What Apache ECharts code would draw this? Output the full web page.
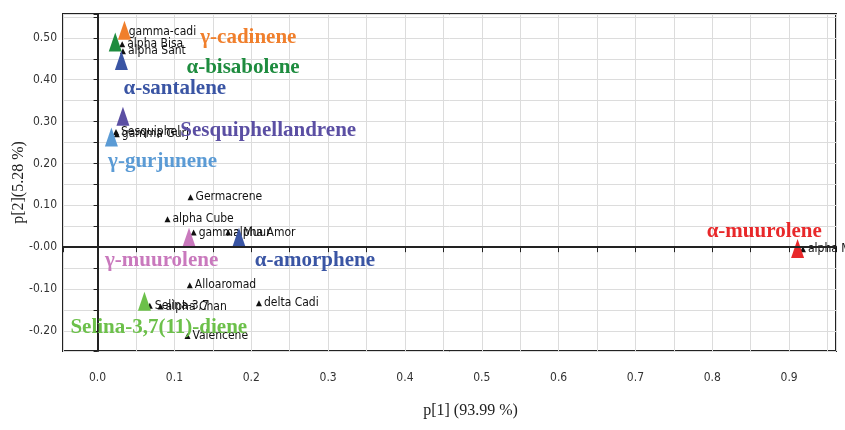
<!DOCTYPE html>
<html>
<head>
<meta charset="utf-8">
<script src="https://cdn.jsdelivr.net/npm/echarts@6/dist/echarts.min.js"></script>
<style>html,body{margin:0;padding:0;background:#fff}#chart{width:845px;height:430px}</style>
</head>
<body>
<div id="chart"></div>
<script>
// ---- data ----
const pointNames = ['gamma-cadi','alpha Bisa','alpha Sant','Sesquiphel','gamma Gurj','Germacrene','alpha Cube','gamma Muur','alpha Amor','Alloaromad','delta Cadi','Selina-3,7','alpha Chan','Valencene','alpha Muur'];
const pointX = [0.034, 0.032, 0.033, 0.024, 0.025, 0.121, 0.091, 0.125, 0.170, 0.120, 0.210, 0.068, 0.082, 0.117, 0.918];
const pointY = [0.515, 0.485, 0.468, 0.275, 0.270, 0.119, 0.067, 0.035, 0.035, -0.091, -0.134, -0.140, -0.142, -0.212, -0.005];

const compoundNames = ['γ-cadinene','α-bisabolene','α-santalene','Sesquiphellandrene','γ-gurjunene','γ-muurolene','α-amorphene','Selina-3,7(11)-diene','α-muurolene'];
const markerX = [0.035, 0.023, 0.031, 0.033, 0.018, 0.119, 0.184, 0.061, 0.911];
const markerY = [0.518, 0.490, 0.446, 0.313, 0.263, 0.024, 0.024, -0.129, -0.003];
const annotX = [0.133, 0.115, 0.033, 0.107, 0.013, 0.009, 0.204, -0.036, 0.792];
const annotY = [0.501, 0.430, 0.379, 0.279, 0.205, -0.031, -0.031, -0.193, 0.038];

const xAxisTitle = 'p[1] (93.99 %)';
const yAxisTitle = 'p[2](5.28 %)';

// ---- styles ----
const palette = ['#F07F2C','#1E8C3F','#3A55A4','#5B4FA3','#5B9BD5','#C979BD','#3A55A4','#6CC04A','#E8282A'];
const narrow = "'Liberation Sans Narrow','DejaVu Sans Condensed','Arial Narrow',sans-serif";
const serif = "'Liberation Serif','DejaVu Serif',serif";

const chart = echarts.init(document.getElementById('chart'), null, {renderer:'canvas'});
const isTenth = v => Math.abs(v*10 - Math.round(v*10)) < 1e-6;

chart.setOption({
  animation: false,
  backgroundColor: '#fff',
  grid: {left: 63, right: 9, top: 14, bottom: 79, containLabel: false, outerBoundsMode: 'none',
    show: true, borderColor: '#222', borderWidth: 2, backgroundColor: 'transparent'},
  xAxis: {
    type: 'value', min: -0.045, max: 0.961, splitNumber: 20,
    axisLine: {show: true, lineStyle: {color: '#222', width: 2}},
    axisTick: {show: true, length: 5, lineStyle: {color: '#222'}},
    splitLine: {show: true, lineStyle: {color: '#dcdcdc', width: 1}},
    axisLabel: {margin: 21, color: '#333', fontFamily: narrow, fontSize: 12,
      formatter: v => (isTenth(v) && v > -0.01 && v < 0.955) ? v.toFixed(1) : ''},
    name: xAxisTitle, nameLocation: 'middle', nameGap: 52, nameMoveOverlap: false,
    nameTextStyle: {fontFamily: serif, fontSize: 16, color: '#222', padding: [0,0,0,42]}
  },
  yAxis: {
    type: 'value', min: -0.248, max: 0.557, splitNumber: 16,
    axisLine: {show: true, lineStyle: {color: '#222', width: 2}},
    axisTick: {show: true, length: 4, lineStyle: {color: '#222'}},
    splitLine: {show: true, lineStyle: {color: '#dcdcdc', width: 1}},
    axisLabel: {margin: 6, color: '#333', fontFamily: narrow, fontSize: 12,
      formatter: v => (isTenth(v) && v > -0.21 && v < 0.51) ? (Math.abs(v) < 1e-9 ? '-0.00' : v.toFixed(2)) : ''},
    name: yAxisTitle, nameLocation: 'middle', nameGap: 36, nameMoveOverlap: false,
    nameTextStyle: {fontFamily: serif, fontSize: 16, color: '#222'}
  },
  series: [
    {
      type: 'scatter', symbol: 'triangle', symbolSize: [6, 6], z: 3,
      itemStyle: {color: '#111', opacity: 1},
      label: {show: true, position: 'right', distance: 2, formatter: p => p.name,
        fontFamily: narrow, fontSize: 12, color: '#111'},
      data: pointNames.map((n, i) => ({name: n, value: [pointX[i], pointY[i]]})),
      markLine: {
        silent: true, symbol: 'none', label: {show: false},
        lineStyle: {color: '#222', width: 2, type: 'solid'},
        data: [{xAxis: 0}, {yAxis: 0}]
      }
    },
    {
      type: 'scatter', symbol: 'triangle', symbolSize: [13, 19], z: 4,
      data: compoundNames.map((n, i) => ({name: n, value: [markerX[i], markerY[i]], itemStyle: {color: palette[i], opacity: 1}}))
    },
    {
      type: 'scatter', symbol: 'circle', symbolSize: 1, z: 5,
      itemStyle: {color: 'rgba(0,0,0,0)', opacity: 1},
      label: {show: true, position: 'right', distance: 0, formatter: p => p.name,
        fontFamily: serif, fontWeight: 'bold', fontSize: 21, opacity: 1},
      data: compoundNames.map((n, i) => ({name: n, value: [annotX[i], annotY[i]], label: {color: palette[i]}}))
    }
  ]
});
</script>
</body>
</html>
